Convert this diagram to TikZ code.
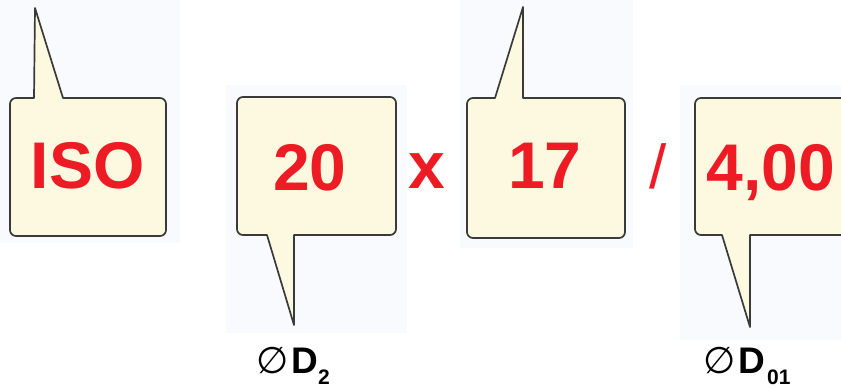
\documentclass[tikz,border=0pt]{standalone}
\usepackage{fontspec}
\setmainfont{Liberation Sans}
\newfontfamily\symfont{DejaVu Sans}
\definecolor{bubfill}{HTML}{FDF9E0}
\definecolor{bubline}{HTML}{3A3A3A}
\definecolor{redtxt}{HTML}{ED1C24}
\definecolor{panel}{HTML}{F9FAFD}
\tikzset{
  bub/.style={draw=bubline, fill=bubfill, line width=1.7pt, line join=round},
  big/.style={text=redtxt, font=\fontsize{66}{66}\selectfont\bfseries, anchor=base, inner sep=0pt},
  sep/.style={text=redtxt, anchor=base, inner sep=0pt},
  lbl/.style={anchor=base west, inner sep=0pt, text=black},
  pan/.style={fill=panel, draw=none}
}
\begin{document}
\begin{tikzpicture}[x=1pt,y=-1pt]
\useasboundingbox (0,0) rectangle (841,388);
\clip (0,0) rectangle (841,388);
\fill[white] (0,0) rectangle (841,388);
% faint panels
\path[pan] (0,0) rectangle (180,243);
\path[pan] (226,85) rectangle (407,333);
\path[pan] (460,0) rectangle (633,248);
\path[pan] (680,85) rectangle (841,340);
% bubble 1 (pointer up)
\coordinate (t1) at (35,8);
\draw[bub] (t1) -- (63,98) [rounded corners=6pt] -- (166,98) -- (166,236) -- (10,236) -- (10,98) [sharp corners] -- (34,98) -- cycle;
% bubble 2 (pointer down)
\coordinate (t2) at (294,325);
\draw[bub] (t2) -- (267,235) [rounded corners=6pt] -- (237,235) -- (237,97) -- (396,97) -- (396,235) [sharp corners] -- (294,235) -- cycle;
% bubble 3 (pointer up)
\coordinate (t3) at (523,7);
\draw[bub] (t3) -- (523,98) [rounded corners=6pt] -- (625,98) -- (625,238) -- (467,238) -- (467,98) [sharp corners] -- (495,98) -- cycle;
% bubble 4 (pointer down)
\coordinate (t4) at (750,327);
\draw[bub] (t4) -- (722,235) [rounded corners=6pt] -- (695,235) -- (695,98) -- (900,98) -- (900,235) [sharp corners] -- (750,235) -- cycle;
% texts
\node[big] (iso) at (87.5,188) {ISO};
\node[big] (d2) at (310,190) {20};
\node[big] (l) at (545,188) {17};
\node[big] (p) at (771,190) {4,00};
\node[sep, font=\fontsize{66}{66}\selectfont\bfseries] (times) at (427,188) {x};
\node[sep, font=\fontsize{62}{62}\selectfont] (slash) at (658.5,188) {/};
% labels
\node[lbl] (lab2) at (256,373) {\fontsize{37}{37}\selectfont\symfont ∅\hspace{3pt}\normalfont\fontsize{37}{37}\selectfont\bfseries D\raisebox{-11pt}{\fontsize{21}{21}\selectfont 2}};
\node[lbl] (lab4) at (703,373) {\fontsize{37}{37}\selectfont\symfont ∅\hspace{3pt}\normalfont\fontsize{37}{37}\selectfont\bfseries D\hspace{2pt}\raisebox{-11pt}{\fontsize{21}{21}\selectfont 01}};
\end{tikzpicture}
\end{document}
